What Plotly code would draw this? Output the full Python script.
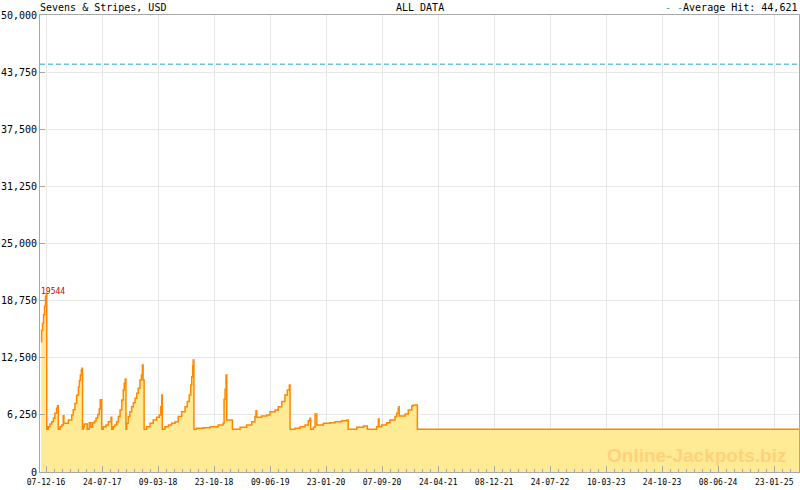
import plotly.graph_objects as go
import pandas as pd

# ---- data ----
dates = [
    "2016-11-17", "2016-11-19", "2016-11-23", "2016-11-27", "2016-12-01", "2016-12-05", "2016-12-08",
    "2016-12-10", "2016-12-16", "2016-12-23", "2016-12-30", "2017-01-06", "2017-01-12", "2017-01-19", "2017-01-23",
    "2017-01-26", "2017-02-02", "2017-02-09", "2017-02-15", "2017-02-18",
    "2017-02-22", "2017-03-08", "2017-03-22", "2017-03-28", "2017-04-04", "2017-04-11", "2017-04-18",
    "2017-04-22", "2017-04-26", "2017-04-30", "2017-05-03",
    "2017-05-05", "2017-05-08", "2017-05-12", "2017-05-24", "2017-06-01", "2017-06-08", "2017-06-15",
    "2017-06-23", "2017-06-29", "2017-07-06", "2017-07-12", "2017-07-16",
    "2017-07-22", "2017-07-29", "2017-08-09", "2017-08-18", "2017-08-29",
    "2017-09-01", "2017-09-07", "2017-09-14", "2017-09-21", "2017-09-28", "2017-10-05", "2017-10-12",
    "2017-10-18", "2017-10-22", "2017-10-26",
    "2017-10-29", "2017-11-01", "2017-11-07", "2017-11-14", "2017-11-21", "2017-11-28", "2017-12-05",
    "2017-12-12", "2017-12-18", "2017-12-25", "2017-12-31", "2018-01-04", "2018-01-07",
    "2018-01-11", "2018-01-21", "2018-02-04", "2018-02-17", "2018-03-03", "2018-03-14", "2018-03-20", "2018-03-24",
    "2018-03-26", "2018-04-06", "2018-04-20", "2018-05-03", "2018-05-17", "2018-05-30", "2018-06-13",
    "2018-06-27", "2018-07-06", "2018-07-14", "2018-07-20", "2018-07-24", "2018-07-28", "2018-07-30",
    "2018-08-02", "2018-08-13", "2018-09-09", "2018-10-07", "2018-11-09", "2018-11-29",
    "2018-12-03", "2018-12-07", "2018-12-11", "2018-12-14",
    "2019-01-06", "2019-02-06", "2019-03-05", "2019-03-26", "2019-04-08", "2019-04-12", "2019-04-15",
    "2019-05-05", "2019-05-26", "2019-06-08", "2019-06-29", "2019-07-12", "2019-07-26", "2019-08-08",
    "2019-08-18", "2019-08-26",
    "2019-08-29", "2019-09-18", "2019-10-09", "2019-10-29", "2019-11-11", "2019-11-18",
    "2019-11-21", "2019-12-02", "2019-12-09", "2019-12-16", "2020-01-12", "2020-02-08", "2020-02-28",
    "2020-03-26", "2020-04-16",
    "2020-04-22", "2020-05-27", "2020-06-23",
    "2020-07-09", "2020-08-16", "2020-08-23", "2020-08-26", "2020-09-06", "2020-09-26", "2020-10-09",
    "2020-10-30", "2020-11-06", "2020-11-12", "2020-11-15",
    "2020-11-16", "2020-12-10", "2020-12-23", "2021-01-06", "2021-01-12",
    "2021-01-29", "2025-05-04",
]
values = [
    14250, 15500, 16250, 17200, 18100, 19200, 19544,
    4670, 4960, 5250, 5500, 5870, 6420, 6970, 7250,
    4670, 4960, 5140, 6150, 5330,
    5330, 5700, 6240, 6800, 7500, 8400, 9300,
    10000, 10600, 11200, 11340,
    4670, 4960, 5250, 4670, 5400, 4900, 5400,
    5550, 5900, 6300, 6900, 7900,
    4670, 4960, 5140, 5500, 5980,
    4670, 4960, 5140, 5500, 6060, 6790, 7880,
    8970, 9700, 10180,
    4670, 5330, 6060, 6600, 7150, 7590, 8060,
    8610, 9150, 10070, 10620, 11700, 10070,
    4670, 4960, 5330, 5690, 5980, 6240, 7150, 8420,
    4670, 4960, 5140, 5330, 5500, 6060, 6600,
    7150, 7700, 8420, 9520, 10430, 11600, 12250,
    4670, 4780, 4850, 4960, 5140, 5330,
    7950, 9050, 10610, 5690,
    4670, 4890, 5140, 5500, 6060, 6700, 5980,
    6130, 6240, 6600, 6790, 7150, 7700, 8420,
    8970, 9520,
    4670, 4780, 4960, 5140, 5610, 5870,
    4670, 4890, 6350, 5140, 5330, 5400, 5500,
    5610, 5690,
    4670, 4890, 5030,
    4670, 4960, 5800, 4960, 5140, 5400, 5690,
    6060, 6420, 6970, 7150,
    6130, 6350, 6790, 7220, 7330,
    4670, 4670,
]

tick_dates = ["2016-12-07", "2017-07-24", "2018-03-09", "2018-10-23", "2019-06-09",
              "2020-01-23", "2020-09-07", "2021-04-24", "2021-12-08", "2022-07-24",
              "2023-03-10", "2023-10-24", "2024-06-08", "2025-01-23"]
y_ticks = [0, 6250, 12500, 18750, 25000, 31250, 37500, 43750, 50000]

average_hit = 44621
peak_value = 19544
peak_date = "2016-11-17"
game_title = "Sevens & Stripes, USD"
period_title = "ALL DATA"
x_range = ["2016-11-12 12:00", "2025-05-04"]

# minor ticks: 7 sub-intervals per major interval
td = pd.to_datetime(tick_dates)
minor_vals = []
for a, b in zip(td[:-1], td[1:]):
    step = (b - a) / 7
    for k in range(1, 7):
        minor_vals.append(a + step * k)
step = (td[-1] - td[-2]) / 7
end = pd.Timestamp(x_range[1])
cur = td[-1] + step
while cur < end:
    minor_vals.append(cur)
    cur += step

MONO = "DejaVu Sans Mono"

fig = go.Figure()
fig.add_trace(go.Scatter(
    x=dates, y=values, mode="lines", line_shape="hv",
    line=dict(color="#FF8800", width=1.5),
    fill="tozeroy", fillcolor="#FFEA95",
    hoverinfo="skip", showlegend=False,
))

fig.add_shape(type="line", xref="paper", x0=0, x1=1, yref="y", y0=average_hit, y1=average_hit,
              line=dict(color="#2A9FD0", width=1, dash="5px,3px"))

fig.update_layout(
    width=800, height=490,
    margin=dict(l=40, r=1, t=15, b=18, autoexpand=False),
    paper_bgcolor="white", plot_bgcolor="white",
    font=dict(family=MONO, size=10, color="black"),
    xaxis=dict(
        type="date", range=x_range, automargin=False,
        tickmode="array", tickvals=tick_dates,
        ticktext=[pd.Timestamp(d).strftime("%d-%m-%y") for d in tick_dates],
        tickfont=dict(family=MONO, size=8, color="black"),
        ticks="inside", ticklen=6, tickcolor="#A8A8A8", tickwidth=1,
        ticklabelstandoff=2,
        showgrid=True, gridcolor="#E8E8E8", gridwidth=1,
        showline=True, linecolor="#A8A8A8", linewidth=1, mirror=True,
        zeroline=False, tickangle=0,
        minor=dict(tickmode="array", tickvals=minor_vals, ticks="inside", ticklen=3,
                   tickcolor="#A8A8A8", showgrid=False),
    ),
    yaxis=dict(
        range=[0, 50000], tickmode="array", tickvals=y_ticks, tickformat=",d",
        automargin=False,
        tickfont=dict(family=MONO, size=10, color="black"),
        ticks="inside", ticklen=5, tickcolor="#A8A8A8",
        showgrid=True, gridcolor="#E8E8E8", gridwidth=1,
        showline=True, linecolor="#A8A8A8", linewidth=1, mirror=True,
        zeroline=False,
    ),
)

fig.add_annotation(text=game_title, xref="paper", yref="paper", x=0, y=1,
                   xanchor="left", yanchor="bottom", showarrow=False,
                   font=dict(family=MONO, size=10, color="black"), xshift=-2, yshift=0)
fig.add_annotation(text=period_title, xref="paper", yref="paper", x=0.5, y=1,
                   xanchor="center", yanchor="bottom", showarrow=False,
                   font=dict(family=MONO, size=10, color="black"), yshift=0)
fig.add_annotation(text="<span style='color:#2A9FD0'>- -</span>Average Hit: " + f"{average_hit:,}",
                   xref="paper", yref="paper", x=1, y=1,
                   xanchor="right", yanchor="bottom", showarrow=False,
                   font=dict(family=MONO, size=10, color="black"), xshift=0, yshift=0)
fig.add_annotation(text=str(peak_value), x=peak_date, y=peak_value, xref="x", yref="y",
                   xanchor="left", yanchor="bottom", showarrow=False,
                   font=dict(family=MONO, size=8, color="#CC0000"), xshift=-2, yshift=-5)
fig.add_annotation(text="<b>Online-Jackpots.biz</b>", xref="paper", yref="paper", x=0.985, y=0.0,
                   xanchor="right", yanchor="bottom", showarrow=False,
                   font=dict(family="Liberation Sans", size=19, color="#FFD27A"), yshift=4)

fig.write_html("out.html", config={"displayModeBar": False},
               post_script="document.body.style.margin='0';document.body.style.overflow='hidden';")
